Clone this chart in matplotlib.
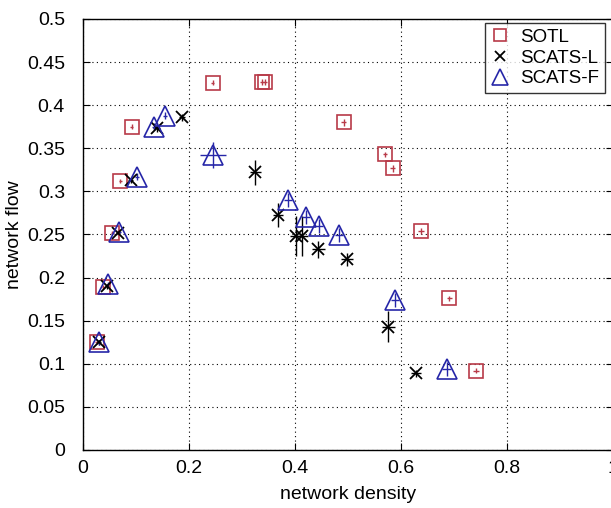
import numpy as np
import matplotlib.pyplot as plt

plt.rcParams['font.family'] = ['Liberation Sans', 'DejaVu Sans']

# SOTL
sotl_density = [0.026, 0.038, 0.055, 0.070, 0.092, 0.245, 0.338, 0.343, 0.492, 0.570, 0.584, 0.638, 0.691, 0.741]
sotl_flow = [0.125, 0.189, 0.252, 0.312, 0.375, 0.426, 0.427, 0.427, 0.380, 0.343, 0.327, 0.254, 0.176, 0.092]
sotl_xerr = [0.003, 0.003, 0.003, 0.003, 0.003, 0.003, 0.004, 0.004, 0.005, 0.004, 0.005, 0.005, 0.005, 0.006]
sotl_yerr = [0.002, 0.002, 0.002, 0.002, 0.003, 0.003, 0.003, 0.003, 0.004, 0.003, 0.004, 0.004, 0.003, 0.003]

# SCATS-L
scl_density = [0.030, 0.045, 0.066, 0.090, 0.139, 0.187, 0.325, 0.368, 0.402, 0.413, 0.444, 0.498, 0.576, 0.628]
scl_flow = [0.125, 0.190, 0.252, 0.313, 0.373, 0.386, 0.322, 0.273, 0.248, 0.248, 0.233, 0.221, 0.143, 0.089]
scl_xerr = [0.004, 0.004, 0.004, 0.005, 0.006, 0.006, 0.010, 0.010, 0.012, 0.012, 0.012, 0.012, 0.012, 0.010]
scl_yerr = [0.003, 0.003, 0.003, 0.003, 0.004, 0.004, 0.015, 0.014, 0.023, 0.023, 0.010, 0.008, 0.018, 0.004]

# SCATS-F
scf_density = [0.030, 0.048, 0.068, 0.102, 0.134, 0.155, 0.245, 0.387, 0.421, 0.445, 0.483, 0.589, 0.686]
scf_flow = [0.125, 0.192, 0.253, 0.317, 0.375, 0.388, 0.342, 0.290, 0.270, 0.260, 0.249, 0.174, 0.094]
scf_xerr = [0.003, 0.003, 0.003, 0.004, 0.004, 0.004, 0.025, 0.008, 0.008, 0.008, 0.008, 0.008, 0.008]
scf_yerr = [0.003, 0.003, 0.003, 0.004, 0.004, 0.004, 0.015, 0.008, 0.008, 0.008, 0.008, 0.008, 0.008]

red = '#b83a48'
blue = '#2626a8'

fig = plt.figure(figsize=(6.11, 5.08), dpi=100)
ax = fig.add_axes([83 / 611, 58 / 508, 530 / 611, 431 / 508])

ax.errorbar(sotl_density, sotl_flow, xerr=sotl_xerr, yerr=sotl_yerr, fmt='s',
            ms=10, mfc='none', mec=red, mew=1.2, ecolor=red, elinewidth=1.0,
            capsize=0, label='SOTL')
ax.errorbar(scl_density, scl_flow, xerr=scl_xerr, yerr=scl_yerr, fmt='x',
            ms=9, mec='black', mew=1.3, ecolor='black', elinewidth=1.0,
            capsize=0, label='SCATS-L')
ax.errorbar(scf_density, scf_flow, xerr=scf_xerr, yerr=scf_yerr, fmt='^',
            ms=14, mfc='none', mec=blue, mew=1.2, ecolor=blue, elinewidth=1.0,
            capsize=0, label='SCATS-F')

ax.set_xlim(0, 1)
ax.set_ylim(0, 0.5)
ax.set_xticks([0, 0.2, 0.4, 0.6, 0.8, 1])
ax.set_xticklabels(['0', '0.2', '0.4', '0.6', '0.8', '1'])
ax.set_yticks(np.arange(0, 0.51, 0.05))
ax.set_yticklabels(['0', '0.05', '0.1', '0.15', '0.2', '0.25', '0.3', '0.35',
                    '0.4', '0.45', '0.5'])
ax.tick_params(direction='in', labelsize=14, length=5, top=True, right=True)
ax.tick_params(axis='y', pad=13)
ax.tick_params(axis='x', pad=7)
ax.grid(True, color='black', linestyle=(0, (1, 3)), linewidth=0.8)
for s in ax.spines.values():
    s.set_linewidth(1.0)

ax.set_xlabel('network density', fontsize=14, labelpad=7)
ax.set_ylabel('network flow', fontsize=14, labelpad=3)

handles, labels = ax.get_legend_handles_labels()
handles = [h[0] for h in handles]
leg = ax.legend(handles, labels, loc='upper right', bbox_to_anchor=(0.985, 0.991),
                borderaxespad=0, fontsize=13.5, frameon=True, fancybox=False,
                edgecolor='black', handlelength=1.0, handletextpad=0.6,
                borderpad=0.3, labelspacing=0.2, markerscale=0.8)
leg.get_frame().set_linewidth(1.0)

fig.savefig('out.png', dpi=100)
